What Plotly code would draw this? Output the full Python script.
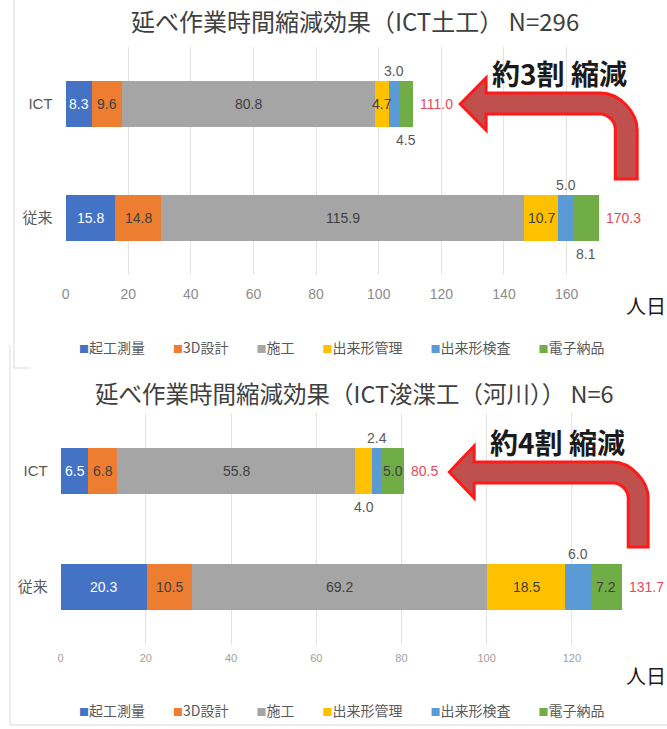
import plotly.graph_objects as go

# ---- data -----------------------------------------------------------------
series = ["起工測量", "3D設計", "施工", "出来形管理", "出来形検査", "電子納品"]
colors = ["#4472C4", "#ED7D31", "#A5A5A5", "#FFC000", "#5B9BD5", "#70AD47"]
rows = ["ICT", "従来"]

# ICT earthwork (N=296), person-days per work step
earthwork_ict = [8.3, 9.6, 80.8, 4.7, 3.0, 4.5]
earthwork_conv = [15.8, 14.8, 115.9, 10.7, 5.0, 8.1]
earthwork_totals = [111.0, 170.3]

# ICT dredging, rivers (N=6)
dredge_ict = [6.5, 6.8, 55.8, 4.0, 2.4, 5.0]
dredge_conv = [20.3, 10.5, 69.2, 18.5, 6.0, 7.2]
dredge_totals = [80.5, 131.7]

# where each segment's value label sits: inside, above or below the bar
earthwork_place = [["in", "in", "in", "in", "above", "below"],
                   ["in", "in", "in", "in", "above", "below"]]
dredge_place = [["in", "in", "in", "below", "above", "in"],
                ["in", "in", "in", "in", "above", "in"]]

earthwork_ticks = [0, 20, 40, 60, 80, 100, 120, 140, 160, 180]
dredge_ticks = [0, 20, 40, 60, 80, 100, 120, 140]

# ---- layout helpers -------------------------------------------------------
W, H = 667, 729


def fx(x):
    return x / W


def fy(y):
    return 1 - y / H


NUM_FONT = "Liberation Sans, Noto Sans CJK JP"
JP_FONT = "Noto Sans CJK JP, Noto Sans, sans-serif"
RED = "#E64A57"

fig = go.Figure()
annotations = []
shapes = []


def add_chart(ict, conv, totals, place, xa, ya):
    data = [ict, conv]
    for i, name in enumerate(series):
        fig.add_trace(go.Bar(
            y=rows, x=[ict[i], conv[i]], name=name, orientation="h",
            marker=dict(color=colors[i], line=dict(width=0)),
            xaxis=xa, yaxis=ya, showlegend=False, hoverinfo="x+name",
        ))
    for r, row in enumerate(rows):
        vals = data[r]
        base = 0.0
        for i, v in enumerate(vals):
            pos = place[r][i]
            mid = base + v / 2
            base += v
            if pos == "in":
                color = "#FFFFFF" if i == 0 else "#404040"
                shift = 0
            elif pos == "above":
                color, shift = "#595959", 33
            else:
                color, shift = "#595959", -36
            annotations.append(dict(
                x=mid, y=row, xref=xa, yref=ya, text=f"{v:.1f}",
                showarrow=False, yshift=shift, xanchor="center", yanchor="middle",
                font=dict(family=NUM_FONT, size=14, color=color)))
        annotations.append(dict(
            x=totals[r], y=row, xref=xa, yref=ya, text=f"{totals[r]:.1f}",
            showarrow=False, xanchor="left", yanchor="middle", xshift=5,
            font=dict(family=NUM_FONT, size=14, color=RED)))


add_chart(earthwork_ict, earthwork_conv, earthwork_totals, earthwork_place, "x", "y")
add_chart(dredge_ict, dredge_conv, dredge_totals, dredge_place, "x2", "y2")


def legend_text():
    parts = [f"<span style='color:{c};font-size:10px'>■</span>{n}"
             for n, c in zip(series, colors)]
    return "\u3000\u3000".join(parts)


def paper_text(x, y, text, size, color, xanchor="center"):
    annotations.append(dict(
        x=fx(x), y=fy(y), xref="paper", yref="paper", text=text,
        showarrow=False, xanchor=xanchor, yanchor="middle",
        font=dict(family=JP_FONT, size=size, color=color)))


# titles, unit labels, legends, callouts
for (title, tsize, ty, ly, uy, note, nx, ny) in [
    ("延べ作業時間縮減効果（ICT土工） N=296", 24, 20, 347, 305, "約3割 縮減", 559, 73),
    ("延べ作業時間縮減効果（ICT浚渫工（河川）） N=6", 23.5, 393, 710, 675, "約4割 縮減", 557, 442),
]:
    paper_text(353, ty, title, tsize, "#404040")
    paper_text(340, ly, legend_text(), 14, "#595959")
    paper_text(624, uy, "人日", 20, "#1A1A1A", xanchor="left")
    paper_text(nx, ny, f"<b>{note}</b>", 28, "#1A1A1A")


def path(points):
    out = []
    for cmd, *coords in points:
        pts = " ".join(f"{fx(coords[k]):.5f},{fy(coords[k + 1]):.5f}"
                       for k in range(0, len(coords), 2))
        out.append(f"{cmd}{pts}")
    return " ".join(out) + " Z"


def bent_arrow(tip_x, tip_y, head_x, head_half, top, bot, outer_x, inner_x, end_y, r_out, r_in):
    return path([
        ("M", tip_x, tip_y),
        ("L", head_x, tip_y - head_half),
        ("L", head_x, top),
        ("L", outer_x - r_out, top),
        ("C", outer_x - r_out * 0.45, top, outer_x, top + r_out * 0.55, outer_x, top + r_out),
        ("L", outer_x, end_y),
        ("L", inner_x, end_y),
        ("L", inner_x, bot + r_in),
        ("C", inner_x, bot + r_in * 0.45, inner_x - r_in * 0.55, bot, inner_x - r_in, bot),
        ("L", head_x, bot),
        ("L", head_x, tip_y + head_half),
    ])


for p in [
    bent_arrow(459, 104, 485, 26, 93, 114, 637, 615, 179, 37, 15),
    bent_arrow(448, 472, 473, 26, 462, 483, 648, 628, 547, 36, 15),
]:
    shapes.append(dict(type="path", path=p, xref="paper", yref="paper",
                       fillcolor="#C0504D", line=dict(color="#FF1A1A", width=3),
                       layer="above"))

# faint panel frames
frame = dict(color="#D9D9D9", width=1)
for x0, y0, x1, y1 in [(10, 0, 10, 368), (10, 368, 25, 368),
                       (6, 345, 6, 725), (6, 725, 667, 725)]:
    shapes.append(dict(type="line", xref="paper", yref="paper",
                       x0=fx(x0), y0=fy(y0), x1=fx(x1), y1=fy(y1),
                       line=frame, layer="below"))

axis_common = dict(showgrid=True, gridcolor="#E3E3E3", gridwidth=1, zeroline=False,
                   showline=False, ticks="", fixedrange=True)
cat_common = dict(categoryorder="array", categoryarray=["従来", "ICT"], showgrid=False,
                  zeroline=False, showline=False, ticks="", fixedrange=True,
                  tickfont=dict(family=NUM_FONT, size=15, color="#595959"))

fig.update_layout(
    width=W, height=H, margin=dict(l=0, r=0, t=0, b=0),
    paper_bgcolor="white", plot_bgcolor="white",
    barmode="stack", bargap=0.6, showlegend=False,
    xaxis=dict(domain=[fx(62), fx(629)], range=[0, 180], anchor="y",
               tickvals=earthwork_ticks,
               ticktext=[str(t) if t < 180 else "" for t in earthwork_ticks],
               tickfont=dict(family=NUM_FONT, size=14, color="#8C8C8C"),
               ticklabelstandoff=9, **axis_common),
    yaxis=dict(domain=[fy(275), fy(47)], anchor="x", ticklabelstandoff=12, **cat_common),
    xaxis2=dict(domain=[fx(57), fx(657)], range=[0, 140], anchor="y2",
                tickvals=dredge_ticks,
                ticktext=[str(t) if t < 140 else "" for t in dredge_ticks],
                tickfont=dict(family=NUM_FONT, size=11, color="#A0A0A0"),
                ticklabelstandoff=5, **axis_common),
    yaxis2=dict(domain=[fy(645), fy(413)], anchor="x2", ticklabelstandoff=12, **cat_common),
    annotations=annotations,
    shapes=shapes,
)

fig.write_html("out.html")
